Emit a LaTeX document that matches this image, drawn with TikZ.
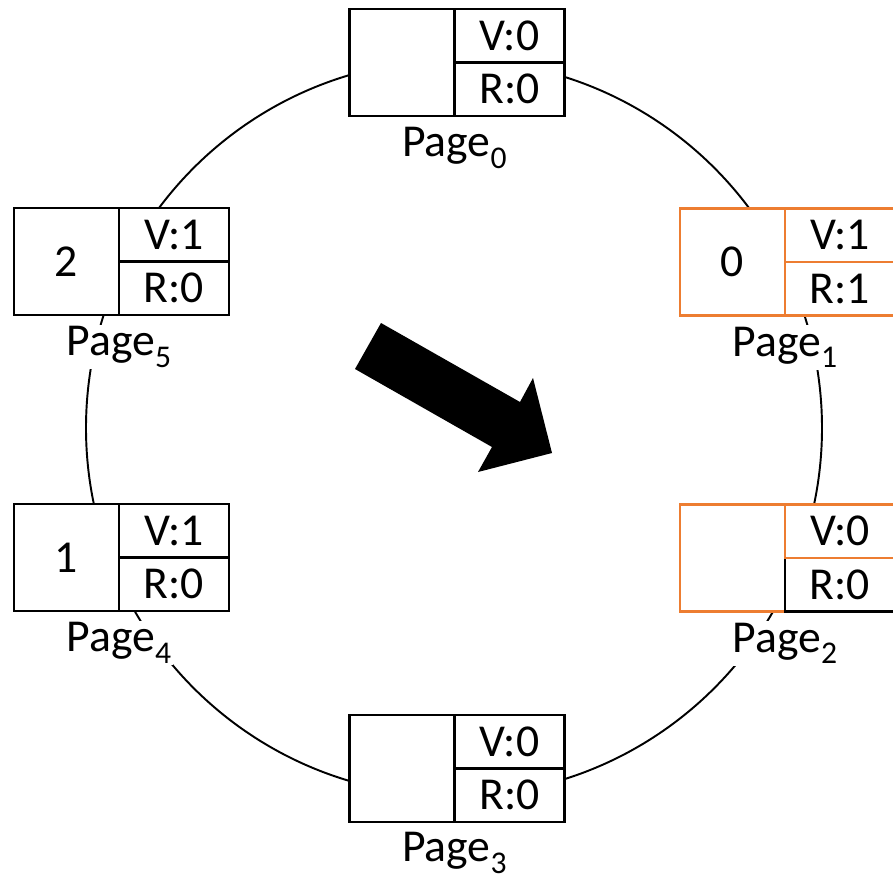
\documentclass[tikz,border=0pt]{standalone}
\usepackage{fontspec}
\setmainfont{Carlito}
\usetikzlibrary{positioning}

\definecolor{clockorange}{HTML}{ED7D31}
\newcommand\pgidx[1]{\raisebox{-0.25em}{\fontsize{18}{20}\selectfont #1}}

\tikzset{
	cell/.style={draw, line width=1.4pt, fill=white, outer sep=0pt, inner sep=0pt, font={\fontsize{26}{30}\selectfont}},
	framecell/.style={cell, minimum width=2.1cm, minimum height=2.14cm},
	bitcell/.style={cell, minimum width=2.2cm, minimum height=1.07cm},
	pagelbl/.style={fill=white, inner sep=1pt, font={\fontsize{26}{30}\selectfont}},
	hand/.style={line width=1.1pt}
}

\begin{document}
\begin{tikzpicture}[x=0.02cm, y=-0.02cm]
		\useasboundingbox (0,0) rectangle (893,879);
		\clip (0,0) rectangle (893,879);
		
		\draw [hand] (454,428) circle [radius=368];
		
		\node[framecell] (p0f) at (402,62.5) {};
		\node[bitcell, anchor=north west] (p0v) at (p0f.north east) {V:0};
		\node[bitcell, anchor=north west] (p0r) at (p0v.south west) {R:0};
		\node[pagelbl, below=0.82cm of p0f.south east, anchor=base] (p0n) {Page\pgidx{0}};
		
		\node[framecell, draw=clockorange] (p1f) at (732.5,262) {0};
		\node[bitcell, draw=clockorange, anchor=north west] (p1v) at (p1f.north east) {V:1};
		\node[bitcell, draw=clockorange, anchor=north west] (p1r) at (p1v.south west) {R:1};
		\node[pagelbl, below=0.82cm of p1f.south east, anchor=base] (p1n) {Page\pgidx{1}};
		
		\node[framecell, draw=clockorange] (p2f) at (732.5,558) {};
		\node[bitcell, anchor=south west] (p2r) at (p2f.south east) {R:0};
		\node[bitcell, draw=clockorange, anchor=south west] (p2v) at (p2r.north west) {V:0};
		\node[pagelbl, below=0.82cm of p2f.south east, anchor=base] (p2n) {Page\pgidx{2}};
		
		\node[framecell] (p3f) at (402,768.5) {};
		\node[bitcell, anchor=north west] (p3v) at (p3f.north east) {V:0};
		\node[bitcell, anchor=north west] (p3r) at (p3v.south west) {R:0};
		\node[pagelbl, below=0.8cm of p3f.south east, anchor=base] (p3n) {Page\pgidx{3}};
		
		\node[framecell] (p4f) at (66.5,557.5) {1};
		\node[bitcell, anchor=north west] (p4v) at (p4f.north east) {V:1};
		\node[bitcell, anchor=north west] (p4r) at (p4v.south west) {R:0};
		\node[pagelbl, below=0.82cm of p4f.south east, anchor=base] (p4n) {Page\pgidx{4}};
		
		\node[framecell] (p5f) at (66.5,261.5) {2};
		\node[bitcell, anchor=north west] (p5v) at (p5f.north east) {V:1};
		\node[bitcell, anchor=north west] (p5r) at (p5v.south west) {R:0};
		\node[pagelbl, below=0.82cm of p5f.south east, anchor=base] (p5n) {Page\pgidx{5}};
		
		\fill (381,323) -- (520,402) -- (533,378) -- (552,453) -- (478,472) -- (492,447) -- (355,369) -- cycle;
	\end{tikzpicture}
\end{document}
